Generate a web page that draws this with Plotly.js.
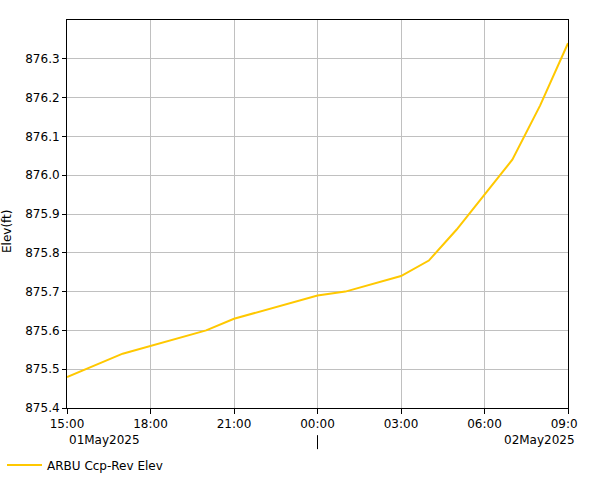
<!DOCTYPE html>
<html>
<head>
<meta charset="utf-8">
<script src="https://cdn.plot.ly/plotly-3.0.1.min.js"></script>
<style>html,body{margin:0;padding:0;background:#fff;}#chart{width:601px;height:480px;}</style>
</head>
<body>
<div id="chart"></div>
<script>
const times = ["2025-05-01 15:00","2025-05-01 17:00","2025-05-01 20:00","2025-05-01 21:00","2025-05-02 00:00","2025-05-02 01:00","2025-05-02 03:00","2025-05-02 04:00","2025-05-02 05:00","2025-05-02 06:00","2025-05-02 07:00","2025-05-02 08:00","2025-05-02 09:00"];
const elev = [875.48,875.54,875.60,875.63,875.69,875.70,875.74,875.78,875.86,875.95,876.04,876.18,876.34];
const seriesName = "ARBU Ccp-Rev Elev";
const xTickVals = ["2025-05-01 15:00","2025-05-01 18:00","2025-05-01 21:00","2025-05-02 00:00","2025-05-02 03:00","2025-05-02 06:00","2025-05-02 09:00"];
const xTickText = ["15:00","18:00","21:00","00:00","03:00","06:00","09:0\u2007"];
const yTickVals = [875.4,875.5,875.6,875.7,875.8,875.9,876.0,876.1,876.2,876.3];
const dayLabels = ["01May2025","02May2025"];
const yTitle = "Elev(ft)";

const font = {family:"DejaVu Sans, Verdana, sans-serif", size:12, color:"#000"};
const trace = {x:times, y:elev, type:"scatter", mode:"lines", name:seriesName,
  line:{color:"rgb(255,200,0)", width:2}};
const layout = {
  width:601, height:480,
  margin:{l:67, r:33, t:20, b:72, autoexpand:false},
  paper_bgcolor:"#fff", plot_bgcolor:"#fff",
  font:font,
  showlegend:true,
  legend:{xref:"container", yref:"container", x:2/601, y:0.031, xanchor:"left", yanchor:"middle", font:font, bgcolor:"rgba(0,0,0,0)", itemwidth:35},
  xaxis:{type:"date", range:["2025-05-01 15:00","2025-05-02 09:00"], tickmode:"array", tickvals:xTickVals, ticktext:xTickText,
    showgrid:true, gridcolor:"#c0c0c0", gridwidth:1, showline:true, linecolor:"#000", linewidth:1, mirror:true,
    ticks:"outside", ticklen:5, tickcolor:"#000", tickfont:font, zeroline:false, automargin:false},
  yaxis:{range:[875.4,876.4], tickmode:"array", tickvals:yTickVals, ticktext:yTickVals.map(v=>v.toFixed(1)),
    showgrid:true, gridcolor:"#c0c0c0", gridwidth:1, showline:true, linecolor:"#000", linewidth:1, mirror:true,
    ticks:"outside", ticklen:4, tickcolor:"#000", tickfont:font, zeroline:false, automargin:false},
  annotations:[
    {xref:"paper", yref:"paper", x:0, y:-0.082, xanchor:"left", yanchor:"middle", text:dayLabels[0], showarrow:false, font:font},
    {xref:"paper", yref:"paper", x:1.018, y:-0.082, xanchor:"right", yanchor:"middle", text:dayLabels[1], showarrow:false, font:font},
    {xref:"paper", yref:"paper", x:-60/501, y:(408-232)/388, xanchor:"center", yanchor:"middle", text:yTitle, textangle:-90, showarrow:false, font:font}
  ],
  shapes:[
    {type:"line", xref:"x", yref:"paper", x0:"2025-05-02 00:00", x1:"2025-05-02 00:00", y0:-0.07, y1:-0.106, line:{color:"#000", width:1}}
  ]
};
Plotly.newPlot("chart", [trace], layout, {displayModeBar:false, staticPlot:true});
</script>
</body>
</html>
